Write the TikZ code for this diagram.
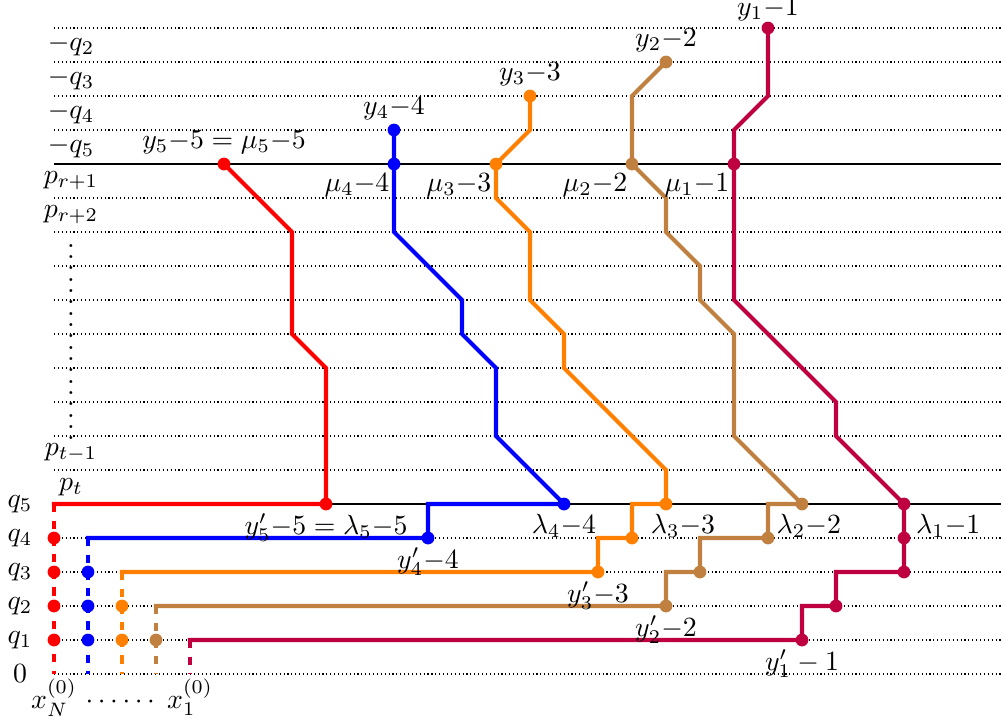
\documentclass[tikz,border=0pt]{standalone}
\begin{document}
\begin{tikzpicture}[x=0.43cm,y=0.43cm]
\tikzset{
  gridline/.style={densely dotted, line width=0.4pt},
  baseline/.style={line width=0.45pt},
  lp/.style={line width=1.5pt, line cap=rect},
  dp/.style={line width=1.5pt, dashed},
}
\useasboundingbox (-1.588,-1.529) rectangle (27.853,19.824);
% grid
\foreach \y in {0,1,2,3,4,6,7,8,9,10,11,12,13,14,16,17,18,19}
  \draw[gridline] (0,\y) -- (27.853,\y);
\draw[baseline] (0,5) -- (27.853,5);
\draw[baseline] (0,15) -- (27.853,15);
% left labels
\node (lq2) at (0.5,18.5) {$-q_2$};
\node (lq3) at (0.5,17.5) {$-q_3$};
\node (lq4) at (0.5,16.5) {$-q_4$};
\node (lq5) at (0.5,15.5) {$-q_5$};
\node (lpr1) at (0.5,14.5) {$p_{r+1}$};
\node (lpr2) at (0.5,13.5) {$p_{r+2}$};
\foreach \k in {7,...,12} \node (vd\k) at (0.5,\k+0.5) {\vdots};
\node (lpt1) at (0.5,6.5) {$p_{t-1}$};
\node (lpt) at (0.5,5.5) {$p_t$};
\node (q5) at (-1,5) {$q_5$};
\node (q4) at (-1,4) {$q_4$};
\node (q3) at (-1,3) {$q_3$};
\node (q2) at (-1,2) {$q_2$};
\node (q1) at (-1,1) {$q_1$};
\node (q0) at (-1,0) {$0$};
\node[anchor=base] (xN) at (0,-1) {$x_N^{(0)}$};
\node[anchor=base] (cd) at (1.95,-1) {$\cdots\cdots$};
\node[anchor=base] (x1) at (4,-1) {$x_1^{(0)}$};
% red
\draw[lp,red] (5,15) -- (7,13) -- (7,10) -- (8,9) -- (8,5) -- (0,5);
\draw[dp,red] (0,5) -- (0,0);
\foreach \p in {(5,15),(8,5),(0,4),(0,3),(0,2),(0,1)} \fill[red] \p circle (2.3pt);
% blue
\draw[lp,blue] (10,16) -- (10,13) -- (12,11) -- (12,10) -- (13,9) -- (13,7) -- (15,5) -- (11,5) -- (11,4) -- (1,4);
\draw[dp,blue] (1,4) -- (1,0);
\foreach \p in {(10,16),(10,15),(15,5),(11,4),(1,3),(1,2),(1,1)} \fill[blue] \p circle (2.3pt);
% orange
\draw[lp,orange] (14,17) -- (14,16) -- (13,15) -- (13,14) -- (14,13) -- (14,11) -- (15,10) -- (15,9) -- (18,6) -- (18,5) -- (17,5) -- (17,4) -- (16,4) -- (16,3) -- (2,3);
\draw[dp,orange] (2,3) -- (2,0);
\foreach \p in {(14,17),(13,15),(18,5),(17,4),(16,3),(2,2),(2,1)} \fill[orange] \p circle (2.3pt);
% brown
\draw[lp,brown] (18,18) -- (17,17) -- (17,15) -- (18,14) -- (18,13) -- (19,12) -- (19,11) -- (20,10) -- (20,7) -- (22,5) -- (21,5) -- (21,4) -- (19,4) -- (19,3) -- (18,3) -- (18,2) -- (3,2);
\draw[dp,brown] (3,2) -- (3,0);
\foreach \p in {(18,18),(17,15),(22,5),(21,4),(19,3),(18,2),(3,1)} \fill[brown] \p circle (2.3pt);
% purple
\draw[lp,purple] (21,19) -- (21,17) -- (20,16) -- (20,11) -- (23,8) -- (23,7) -- (25,5) -- (25,3) -- (23,3) -- (23,2) -- (22,2) -- (22,1) -- (4,1);
\draw[dp,purple] (4,1) -- (4,0);
\foreach \p in {(21,19),(20,15),(25,5),(25,4),(25,3),(23,2),(22,1)} \fill[purple] \p circle (2.3pt);
% top labels
\node[above, inner ysep=2.5pt] (ly1) at (21,19) {$y_1{-}1$};
\node[above] (ly2) at (18,18) {$y_2{-}2$};
\node[above] (ly3) at (14,17) {$y_3{-}3$};
\node[above] (ly4) at (10,16) {$y_4{-}4$};
\node[above] (ly5) at (5,15) {$y_5{-}5=\mu_5{-}5$};
\node[anchor=north east, inner xsep=1.5pt] (lm4) at (10,15) {$\mu_4{-}4$};
\node[anchor=north east, inner xsep=1.5pt] (lm3) at (13,15) {$\mu_3{-}3$};
\node[anchor=north east, inner xsep=1.5pt] (lm2) at (17,15) {$\mu_2{-}2$};
\node[anchor=north east, inner xsep=1.5pt] (lm1) at (20,15) {$\mu_1{-}1$};
% bottom labels
\node[below] (lyp5) at (8,5) {$y'_5{-}5=\lambda_5{-}5$};
\node[below] (ll4) at (15,5) {$\lambda_4{-}4$};
\node[below] (ll3) at (18.5,5) {$\lambda_3{-}3$};
\node[below] (ll2) at (22.2,5) {$\lambda_2{-}2$};
\node[below] (ll1) at (26.3,5) {$\lambda_1{-}1$};
\node[below] (lyp4) at (11,4) {$y'_4{-}4$};
\node[below] (lyp3) at (16,3) {$y'_3{-}3$};
\node[below] (lyp2) at (18,2) {$y'_2{-}2$};
\node[below] (lyp1) at (22,1) {$y'_1-1$};
\end{tikzpicture}
\end{document}
